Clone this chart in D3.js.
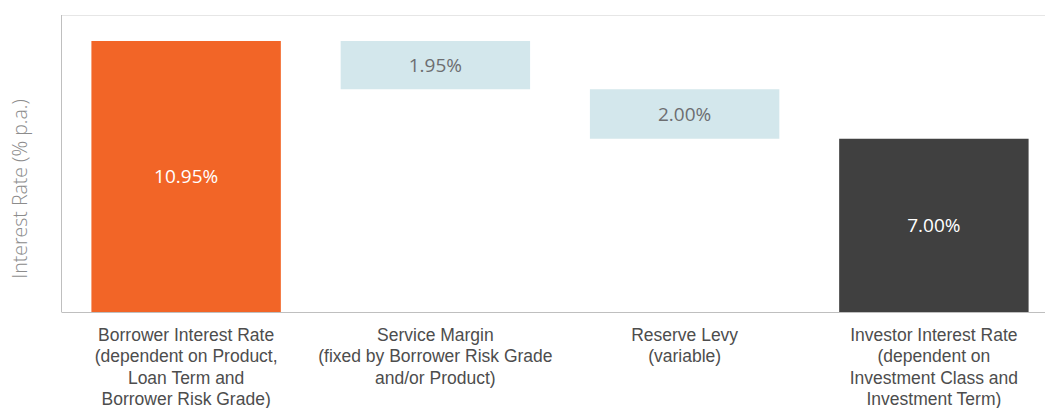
<!DOCTYPE html>
<html>
<head>
<meta charset="utf-8">
<script src="https://cdn.jsdelivr.net/npm/d3@7"></script>
<style>
  body { margin: 0; background: #ffffff; }
  svg { display: block; font-family: "Open Sans", "Noto Sans", sans-serif; }
</style>
</head>
<body>
<div id="chart"></div>
<script>
// Chart data
const categories = ['borrower', 'service', 'reserve', 'investor'];
const categoryLabels = [
  ['Borrower Interest Rate', '(dependent on Product,', 'Loan Term and', 'Borrower Risk Grade)'],
  ['Service Margin', '(fixed by Borrower Risk Grade', 'and/or Product)'],
  ['Reserve Levy', '(variable)'],
  ['Investor Interest Rate', '(dependent on', 'Investment Class and', 'Investment Term)']
];
const values = [10.95, 1.95, 2.00, 7.00];
const barTypes = ['total', 'decrease', 'decrease', 'total'];
const valueLabels = ['10.95%', '1.95%', '2.00%', '7.00%'];
const yDomain = [0, 12];

// Build waterfall start/end
let running = 0;
const data = categories.map((c, i) => {
  let start, end;
  if (barTypes[i] === 'total') {
    start = 0; end = values[i]; running = values[i];
  } else {
    start = running; end = running - values[i]; running = end;
  }
  return { key: c, lines: categoryLabels[i], type: barTypes[i], start, end, label: valueLabels[i] };
});

const W = 1045, H = 408;
const margin = { top: 15, left: 61.5, bottom: 96 };
const plotBottom = H - margin.bottom;

const svg = d3.select('#chart').append('svg')
  .attr('width', W)
  .attr('height', H);

const x = d3.scaleBand()
  .domain(categories)
  .range([margin.left, 1058.5])
  .paddingInner(0.24)
  .paddingOuter(0.12);

const y = d3.scaleLinear()
  .domain(yDomain)
  .range([plotBottom, margin.top]);

const colors = { total: '#f26527', decrease: '#d3e7ec' };

// Top border line
svg.append('line')
  .attr('x1', margin.left).attr('x2', W)
  .attr('y1', y(yDomain[1]) + 0.5).attr('y2', y(yDomain[1]) + 0.5)
  .attr('stroke', '#e6e6e6');

// Bars
svg.selectAll('.bar')
  .data(data)
  .enter()
  .append('rect')
  .attr('class', 'bar')
  .attr('x', d => x(d.key))
  .attr('width', x.bandwidth())
  .attr('y', d => y(Math.max(d.start, d.end)))
  .attr('height', d => Math.abs(y(d.start) - y(d.end)))
  .attr('fill', (d, i) => i === data.length - 1 ? '#404040' : colors[d.type]);

// Value labels
svg.selectAll('.value-label')
  .data(data)
  .enter()
  .append('text')
  .attr('class', 'value-label')
  .attr('x', d => x(d.key) + x.bandwidth() / 2)
  .attr('y', d => (y(d.start) + y(d.end)) / 2)
  .attr('dy', '0.35em')
  .attr('text-anchor', 'middle')
  .attr('font-size', '19px')
  .attr('font-weight', d => d.type === 'total' ? 500 : 400)
  .attr('fill', d => d.type === 'total' ? '#ffffff' : '#6d6e71')
  .text(d => d.label);

// Left axis line
svg.append('line')
  .attr('x1', margin.left).attr('x2', margin.left)
  .attr('y1', margin.top).attr('y2', plotBottom)
  .attr('stroke', '#bfbfbf');

// Bottom axis (line + multi-line category labels)
const xAxis = svg.append('g')
  .attr('class', 'x-axis')
  .attr('transform', `translate(0,${plotBottom})`)
  .call(d3.axisBottom(x).tickSize(0).tickFormat(''));

xAxis.select('path')
  .attr('d', `M${margin.left},0.5H${W}`)
  .attr('stroke', '#bfbfbf');

xAxis.selectAll('.tick text').remove();
xAxis.selectAll('.tick')
  .data(data)
  .append('text')
  .attr('text-anchor', 'middle')
  .attr('fill', '#4d4d4d')
  .attr('font-size', '17.5px')
  .selectAll('tspan')
  .data(d => d.lines)
  .enter()
  .append('tspan')
  .attr('x', 0)
  .attr('y', (d, i) => 28.5 + i * 21.5)
  .text(d => d);

// Y axis title
svg.append('text')
  .attr('transform', `translate(27,${189}) rotate(-90)`)
  .attr('text-anchor', 'middle')
  .attr('fill', '#8c8c8c')
  .attr('font-size', '19.5px')
  .attr('font-weight', 300)
  .text('Interest Rate (% p.a.)');
</script>
</body>
</html>
